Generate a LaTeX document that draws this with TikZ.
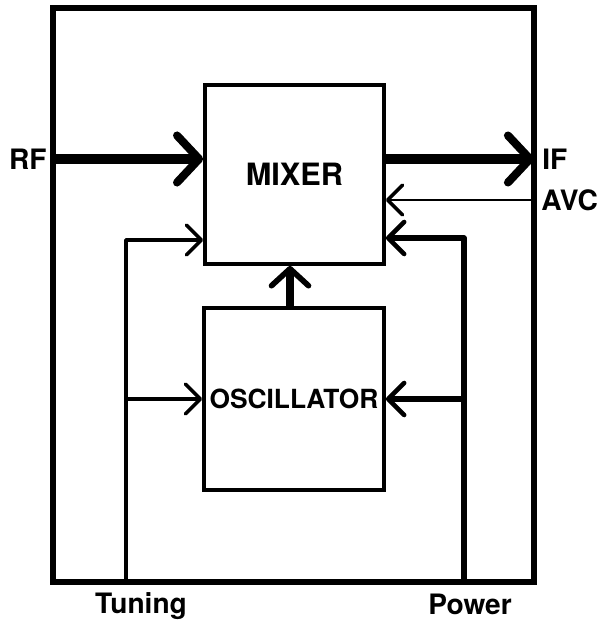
\documentclass[tikz,border=0pt]{standalone}
\usepackage{fontspec}
\setmainfont{TeX Gyre Heros}
\usetikzlibrary{arrows.meta,positioning}

\begin{document}
\begin{tikzpicture}[
        x=0.02cm, y=-0.02cm,
        frame/.style={rectangle, draw, line width=3pt, inner sep=0pt},
        block/.style={rectangle, draw, line width=2.2pt, inner sep=0pt, font=\bfseries\fontsize{15}{15}\selectfont},
        label/.style={inner sep=0pt, font=\bfseries\fontsize{16}{16}\selectfont},
        bigarrow/.style={line width=6.2pt, -{Straight Barb[length=0.44cm, width=0.94cm, line width=4.6pt, round]}},
        smallarrow/.style={line width=1.5pt, -{Straight Barb[length=0.3cm, width=0.6cm, line width=2pt, round]}},
        tune/.style={line width=2pt, line join=round, -{Straight Barb[length=0.3cm, width=0.6cm, line width=2pt, round]}},
        power/.style={line width=3pt, line join=round, -{Straight Barb[length=0.32cm, width=0.64cm, line width=2.6pt, round]}},
        feed/.style={line width=4.8pt, -{Straight Barb[length=0.34cm, width=0.74cm, line width=3.2pt, round]}}
    ]
    \useasboundingbox (0,0) rectangle (596,631);

    % outer frame and blocks
    \node[frame, minimum width=9.62cm, minimum height=11.48cm] (frame) at (293.5,295) {};
    \node[block, minimum width=3.58cm, minimum height=3.58cm, font=\bfseries\fontsize{17.5}{17.5}\selectfont] (mixer) at (294.5,174.5) {MIXER};
    \node[block, minimum width=3.6cm, minimum height=3.64cm] (osc) at (294,399) {OSCILLATOR};

    % ends of the connectors
    \coordinate (rfin) at (53,159);
    \coordinate (ifout) at (534,159);
    \coordinate (avcin) at (534,200);
    \coordinate (tunbot) at (126,582);
    \coordinate (tuntop) at (126,240);
    \coordinate (pwrbot) at (464,582);
    \coordinate (pwrtop) at (464,238);

    % signal path
    \draw[bigarrow] (rfin) -- (rfin -| mixer.west);
    \draw[bigarrow] (ifout -| mixer.east) -- (ifout);
    \draw[smallarrow] (avcin) -- (avcin -| mixer.east);
    \draw[feed] ([xshift=-0.08cm]osc.north) -- ([xshift=-0.08cm]osc.north |- mixer.south);

    % tuning and power
    \draw[tune] (tunbot) -- (tuntop) -- (tuntop -| mixer.west);
    \draw[tune] (tunbot |- osc.west) -- (osc.west);
    \draw[power] (pwrbot) -- (pwrtop) -- (pwrtop -| mixer.east);
    \draw[power] (pwrbot |- osc.east) -- (osc.east);

    % labels
    \node[label, left=0.12cm of rfin] (rflbl) {RF};
    \node[label, right=0.16cm of ifout] (iflbl) {IF};
    \node[label, right=0.14cm of avcin] (avclbl) {AVC};
    \node[label] (tunlbl) at (141,606) {Tuning};
    \node[label] (pwrlbl) at (470,604) {Power};

    \end{tikzpicture}
\end{document}
